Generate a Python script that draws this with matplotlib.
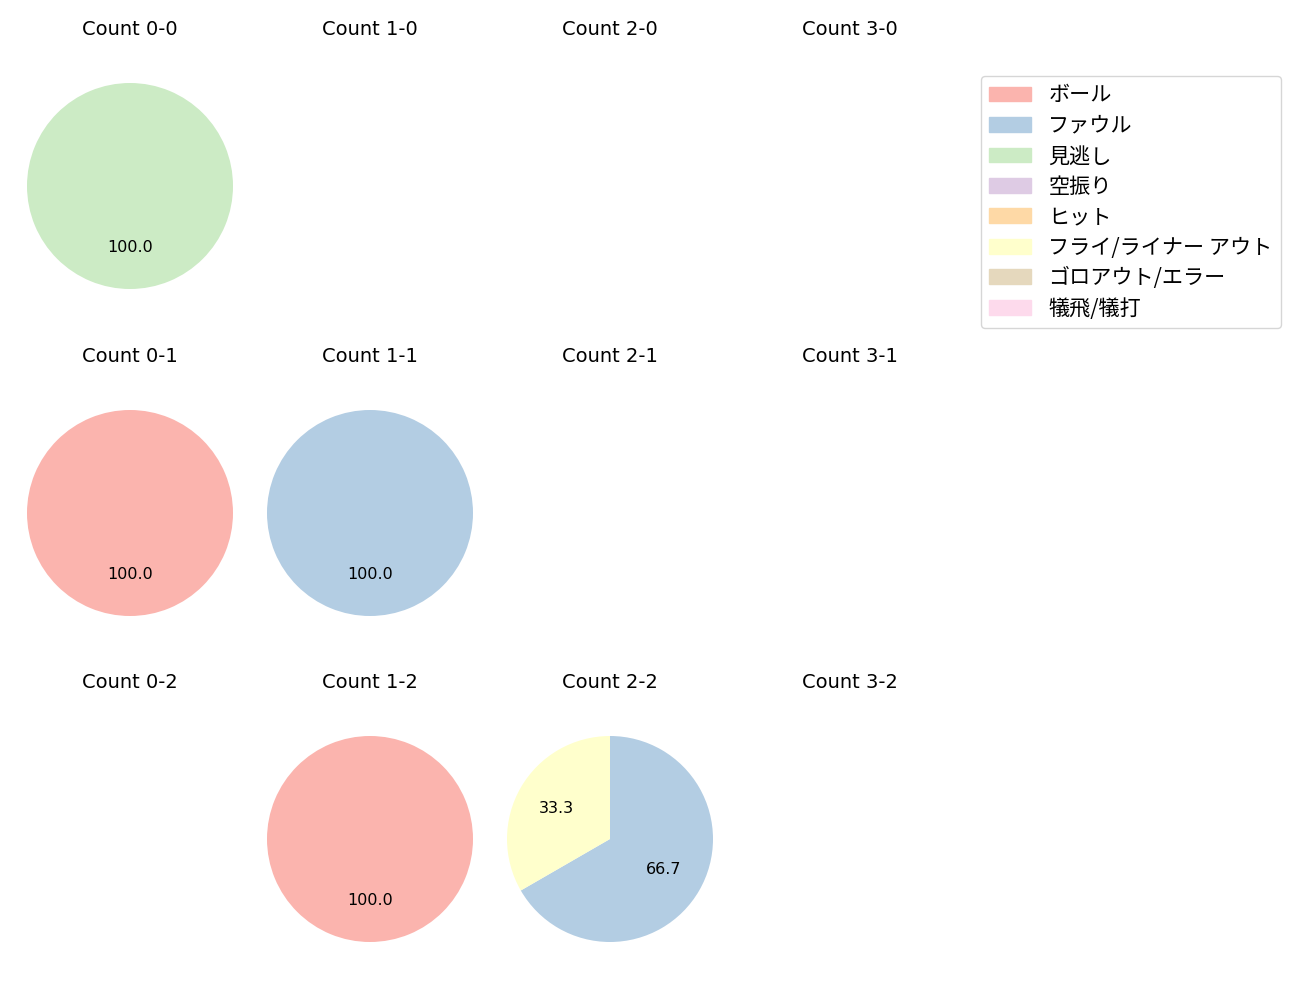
import numpy as np
import matplotlib.pyplot as plt

plt.rcParams['font.family'] = ['DejaVu Sans', 'Noto Sans CJK JP']

# -------------------------
# Data
# -------------------------

labels = ["ボール", "ファウル", "見逃し", "空振り", "ヒット",
          "フライ/ライナー アウト", "ゴロアウト/エラー", "犠飛/犠打"]

colors = plt.get_cmap("Pastel1").colors[:8]

balls = [0, 1, 2, 3]
strikes = [0, 1, 2]

# counts per result for each (ball, strike)
counts = {
    (0, 0): [0, 0, 1, 0, 0, 0, 0, 0],
    (0, 1): [1, 0, 0, 0, 0, 0, 0, 0],
    (1, 1): [0, 1, 0, 0, 0, 0, 0, 0],
    (1, 2): [1, 0, 0, 0, 0, 0, 0, 0],
    (2, 2): [0, 2, 0, 0, 0, 1, 0, 0],
}

# -------------------------
# Figure
# -------------------------

W, H = 1300, 1000
fig = plt.figure(figsize=(13, 10), dpi=100)

side = 240
R = 103

col_x = [130, 370, 610, 850]
row_y = [186, 513, 839]

for s in strikes:
    for b in balls:
        cx = col_x[b]
        cy = row_y[s]
        ax = fig.add_axes([
            (cx - side / 2) / W,
            1 - (cy + side / 2) / H,
            side / W,
            side / H
        ])
        vals = counts.get((b, s))
        if vals is not None:
            v = np.array(vals, dtype=float)
            mask = v > 0
            ax.pie(
                v[mask],
                colors=[c for c, m in zip(colors, mask) if m],
                startangle=90,
                counterclock=False,
                autopct="%.1f",
                textprops={"fontsize": 11.5}
            )
        ax.set_xlim(-side / 2 / R, side / 2 / R)
        ax.set_ylim(-side / 2 / R, side / 2 / R)
        ax.set_aspect("equal")
        ax.axis("off")
        ax.set_title(f"Count {b}-{s}", fontsize=14, pad=22)

handles = [plt.Rectangle((0, 0), 1, 1, color=c) for c in colors]
fig.legend(
    handles,
    labels,
    loc="upper right",
    bbox_to_anchor=(1281 / W, 1 - 76 / H),
    borderaxespad=0,
    labelspacing=0.4,
    prop={"family": ["Noto Sans CJK JP", "DejaVu Sans"], "size": 15.2}
)

fig.savefig("out.png", dpi=100)
